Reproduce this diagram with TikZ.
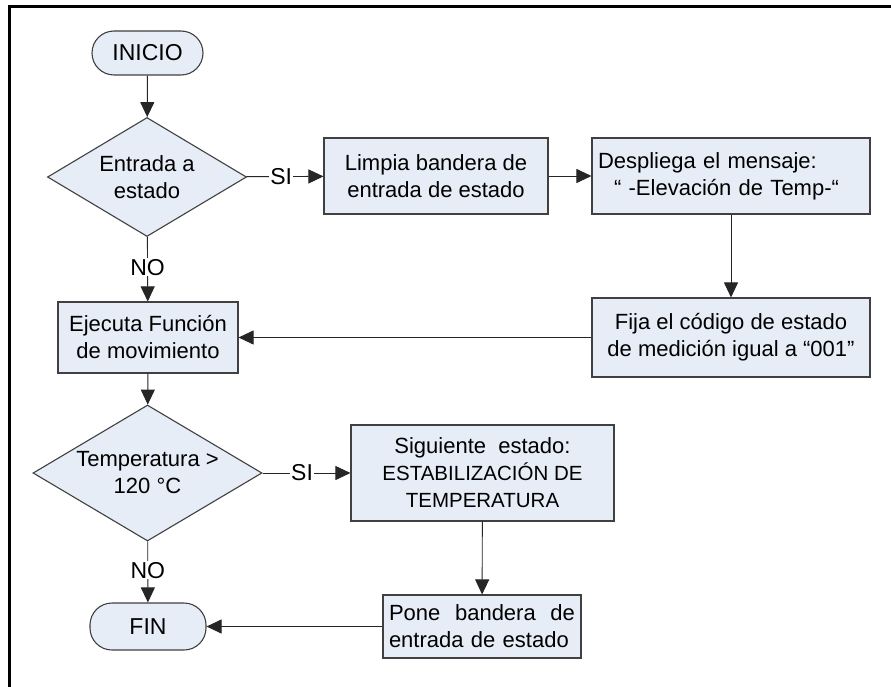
\documentclass[tikz,border=0pt]{standalone}
\usepackage{fontspec}
\setmainfont{Liberation Sans}
\usetikzlibrary{arrows.meta,shapes.geometric}
\definecolor{boxfill}{HTML}{E6EDF7}
\definecolor{boxline}{HTML}{404040}
\newcommand{\capsz}{\fontsize{20.5}{27}\selectfont}
\begin{document}
\begin{tikzpicture}[x=1pt,y=-1pt,
  base/.style={draw=boxline,fill=boxfill,line width=1.1pt,inner sep=0pt,
    font=\fontsize{22}{27}\selectfont},
  procbox/.style={base,rectangle,align=center},
  termbox/.style={base,rectangle,rounded corners=22pt,font=\fontsize{23}{27}\selectfont},
  decbox/.style={base,diamond,align=center,inner xsep=-30pt,inner ysep=-15pt},
  conn/.style={draw=black!85,line width=0.9pt,-{Triangle[length=15pt,width=14pt]}},
  lbl/.style={fill=white,inner sep=1pt,font=\fontsize{23}{24}\selectfont}]
\useasboundingbox (0,0) rectangle (891,687);
\fill[white] (0,0) rectangle (891,687);
\draw[line width=3pt] (9,687) -- (9,7) -- (891,7);

\node[termbox,minimum width=111pt,minimum height=44pt] (inicio) at (147.5,53) {INICIO};
\node[decbox,minimum width=199pt,minimum height=119pt] (d1) at (147,177) {Entrada a\\estado};
\node[procbox,minimum width=224pt,minimum height=76pt] (limpia) at (436,176) {Limpia bandera de\\entrada de estado};
\node[procbox,minimum width=278pt,minimum height=76pt,align=left,text width=266pt,inner xsep=6pt] (desp) at (731,176)
  {Despliega el mensaje:\\\hspace*{16pt}“ -Elevación de Temp-“};
\node[procbox,minimum width=278pt,minimum height=79pt] (fija) at (731,337.5) {Fija el código de estado\\de medición igual a “001”};
\node[procbox,minimum width=180pt,minimum height=71pt] (ejec) at (148,337.5) {Ejecuta Función\\de movimiento};
\node[decbox,minimum width=229pt,minimum height=136pt] (d2) at (147.5,473) {Temperatura >\\120 °C};
\node[procbox,minimum width=263pt,minimum height=96pt] (sig) at (482.5,473) {Siguiente\ \ estado:\\{\capsz ESTABILIZACIÓN DE}\\{\capsz TEMPERATURA}};
\node[procbox,minimum width=198pt,minimum height=63pt,align=left,text width=186pt,inner xsep=6pt] (pone) at (482,626.5)
  {\hbox to 186pt{Pone\hfill bandera\hfill de}\\entrada de estado};
\node[termbox,minimum width=116pt,minimum height=47pt] (fin) at (148,626.5) {FIN};

\draw[conn] (inicio) -- (d1);
\draw[conn] (d1) -- node[lbl,pos=0.45] {SI} (limpia);
\draw[conn] (limpia) -- (desp);
\draw[conn] (desp) -- (fija);
\draw[conn] (fija) -- (ejec);
\draw[conn] (d1) -- node[lbl,pos=0.47] {NO} (ejec);
\draw[conn] (ejec) -- (d2);
\draw[conn] (d2) -- node[lbl,pos=0.45] {SI} (sig);
\draw[conn] (sig) -- (pone);
\draw[conn] (pone) -- (fin);
\draw[conn] (d2) -- node[lbl,pos=0.47] {NO} (fin);
\end{tikzpicture}
\end{document}
